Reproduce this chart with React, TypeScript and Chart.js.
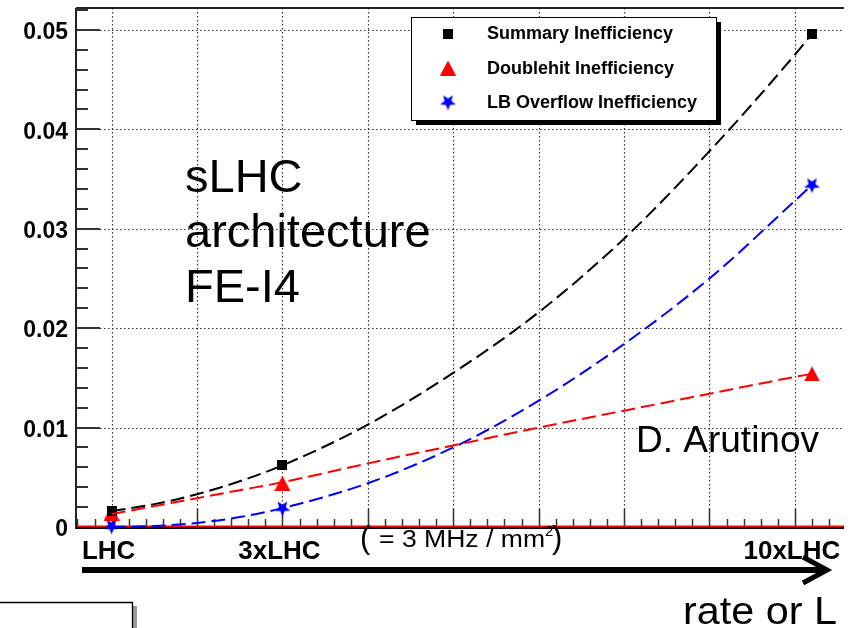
import React, { useEffect, useRef } from "react";
import { Chart, registerables } from "chart.js";

Chart.register(...registerables);

// ---- data ----
const fitX = [1, 1.5, 2, 2.5, 3, 4, 5, 6, 7, 8, 9, 9.2];
const summaryFit = [0.0016, 0.0023, 0.0033, 0.0046, 0.0062, 0.0103, 0.0155, 0.0216, 0.029, 0.0378, 0.0475, 0.0496];
const doublehitFit = [0.0013, 0.0021, 0.0029, 0.0037, 0.0045, 0.0064, 0.0082, 0.01, 0.0117, 0.0134, 0.0151, 0.0154];
const overflowFit = [0.0, 0.0001, 0.0004, 0.001, 0.0019, 0.0044, 0.008, 0.0127, 0.0184, 0.025, 0.0328, 0.0344];

const pointX = [1, 3, 9.2];
const summaryPts = [0.0016, 0.0062, 0.0496];
const doublehitPts = [0.0014, 0.0044, 0.0154];
const overflowPts = [0.0001, 0.0019, 0.0344];

const seriesLabels = ["Summary Inefficiency", "Doublehit Inefficiency", "LB Overflow Inefficiency"];
const seriesColors = ["#000000", "#ff0000", "#0000ff"];

const xTickValues = [1, 2, 3, 4, 5, 6, 7, 8, 9];
const xTickLabels = ["LHC", "", "3xLHC", "", "", "", "", "", "10xLHC"];
const yTickValues = [0, 0.01, 0.02, 0.03, 0.04, 0.05];
const yTickLabels = ["0", "0.01", "0.02", "0.03", "0.04", "0.05"];

const xMin = 0.583;
const xMax = 9.575;
const yMin = 0;
const yMax = 0.0522;
const xMinorStep = 0.2;
const yMinorStep = 0.002;

const noteLines = ["sLHC", "architecture", "FE-I4"];
const authorText = "D. Arutinov";
const rateNoteText = "= 3 MHz / mm";
const axisTitle = "rate or L";

const FONT = '"Liberation Sans", Arial, Helvetica, sans-serif';

function makeSquare(): HTMLCanvasElement {
  const c = document.createElement("canvas");
  c.width = 10; c.height = 10;
  const g = c.getContext("2d")!;
  g.fillStyle = "#000";
  g.fillRect(0, 0, 10, 10);
  return c;
}
function makeTriangle(): HTMLCanvasElement {
  const c = document.createElement("canvas");
  c.width = 16; c.height = 15;
  const g = c.getContext("2d")!;
  g.fillStyle = "#ff0000";
  g.beginPath();
  g.moveTo(8, 0); g.lineTo(16, 15); g.lineTo(0, 15); g.closePath();
  g.fill();
  return c;
}
function makeStar(): HTMLCanvasElement {
  const c = document.createElement("canvas");
  c.width = 17; c.height = 17;
  const g = c.getContext("2d")!;
  g.fillStyle = "#0000ff";
  g.beginPath();
  for (let k = 0; k < 10; k++) {
    const ang = Math.PI / 2 + (k * Math.PI) / 5;
    const r = k % 2 === 0 ? 8.3 : 3.6;
    const px = 8.5 + r * Math.cos(ang);
    const py = 8.5 + r * Math.sin(ang);
    if (k === 0) g.moveTo(px, py); else g.lineTo(px, py);
  }
  g.closePath();
  g.fill();
  return c;
}

export default function App() {
  const ref = useRef<HTMLCanvasElement | null>(null);

  useEffect(() => {
    const canvas = ref.current;
    if (!canvas) return;
    const markers = [makeSquare(), makeTriangle(), makeStar()];

    const decor = {
      id: "decor",
      beforeDraw(chart: any) {
        const ctx = chart.ctx;
        ctx.save();
        ctx.fillStyle = "#fff";
        ctx.fillRect(0, 0, chart.width, chart.height);
        ctx.restore();
      },
      beforeDatasetsDraw(chart: any) {
        const { ctx, chartArea: a } = chart;
        const xs = chart.scales.x;
        const ys = chart.scales.y;
        ctx.save();
        // dotted grid
        ctx.strokeStyle = "#333";
        ctx.lineWidth = 1.2;
        ctx.setLineDash([1.5, 2.5]);
        for (const v of xTickValues) {
          const px = Math.round(xs.getPixelForValue(v)) + 0.5;
          ctx.beginPath(); ctx.moveTo(px, a.top); ctx.lineTo(px, a.bottom); ctx.stroke();
        }
        for (const v of yTickValues) {
          if (v === 0) continue;
          const py = Math.round(ys.getPixelForValue(v)) + 0.5;
          ctx.beginPath(); ctx.moveTo(a.left, py); ctx.lineTo(a.right, py); ctx.stroke();
        }
        ctx.setLineDash([]);
        // y ticks (inside)
        ctx.strokeStyle = "#333";
        ctx.lineWidth = 2;
        const nY = Math.floor(yMax / yMinorStep + 1e-6);
        for (let k = 0; k <= nY; k++) {
          const py = Math.round(ys.getPixelForValue(k * yMinorStep));
          const len = k % 5 === 0 ? 24 : 12;
          ctx.beginPath(); ctx.moveTo(a.left, py); ctx.lineTo(a.left + len, py); ctx.stroke();
        }
        // x ticks (inside)
        ctx.lineWidth = 1.5;
        const k0 = Math.ceil(xMin / xMinorStep - 1e-6);
        const k1 = Math.floor(xMax / xMinorStep + 1e-6);
        for (let k = k0; k <= k1; k++) {
          const px = Math.round(xs.getPixelForValue(k * xMinorStep)) + 0.5;
          const len = k % 5 === 0 ? 18 : 8;
          ctx.beginPath(); ctx.moveTo(px, a.bottom); ctx.lineTo(px, a.bottom - len); ctx.stroke();
        }
        // frame: top and left
        ctx.strokeStyle = "#222";
        ctx.lineWidth = 2;
        ctx.beginPath(); ctx.moveTo(a.left, a.top); ctx.lineTo(a.right, a.top); ctx.stroke();
        ctx.beginPath(); ctx.moveTo(a.left, a.top); ctx.lineTo(a.left, a.bottom + 2); ctx.stroke();
        // x axis line and red zero line
        ctx.strokeStyle = "#000";
        ctx.beginPath(); ctx.moveTo(a.left, a.bottom + 1); ctx.lineTo(a.right, a.bottom + 1); ctx.stroke();
        ctx.strokeStyle = "#ff0000";
        ctx.lineWidth = 1.5;
        const y0 = ys.getPixelForValue(0);
        ctx.beginPath(); ctx.moveTo(a.left + 1, y0 - 0.75); ctx.lineTo(a.right, y0 - 0.75); ctx.stroke();
        ctx.restore();
      },
      afterDraw(chart: any) {
        const { ctx } = chart;
        ctx.save();
        // legend box with shadow
        ctx.fillStyle = "#000";
        ctx.fillRect(416, 22, 305, 103);
        ctx.fillStyle = "#fff";
        ctx.fillRect(411, 17, 306, 104);
        ctx.strokeStyle = "#000";
        ctx.lineWidth = 1;
        ctx.strokeRect(411.5, 17.5, 305, 103);
        const rows = [39, 74, 108];
        const markerY = [33.5, 68, 102];
        ctx.font = `bold 18px ${FONT}`;
        ctx.fillStyle = "#000";
        ctx.textBaseline = "alphabetic";
        ctx.textAlign = "left";
        for (let i = 0; i < 3; i++) {
          const m = markers[i];
          ctx.drawImage(m, 448 - m.width / 2, markerY[i] - m.height / 2);
          ctx.fillStyle = "#000";
          ctx.fillText(seriesLabels[i], 487, rows[i]);
        }
        // big annotation
        ctx.font = `47px ${FONT}`;
        const base = [192, 247, 302];
        noteLines.forEach((t, i) => ctx.fillText(t, 185, base[i]));
        ctx.font = `37px ${FONT}`;
        ctx.fillText(authorText, 636, 452);
        // ( = 3 MHz / mm2 )
        ctx.font = `31px ${FONT}`;
        ctx.fillText("(", 360, 548);
        ctx.font = `23px ${FONT}`;
        const w = ctx.measureText(rateNoteText).width;
        ctx.save();
        ctx.translate(379, 547);
        ctx.scale(166 / w, 1);
        ctx.fillText(rateNoteText, 0, 0);
        ctx.restore();
        ctx.font = `15px ${FONT}`;
        ctx.fillText("2", 545, 536);
        ctx.font = `31px ${FONT}`;
        ctx.fillText(")", 552, 548);
        // arrow
        ctx.strokeStyle = "#000";
        ctx.lineWidth = 6;
        ctx.lineCap = "butt";
        ctx.beginPath(); ctx.moveTo(82, 570); ctx.lineTo(824, 570); ctx.stroke();
        ctx.lineWidth = 5;
        ctx.lineJoin = "miter";
        ctx.beginPath(); ctx.moveTo(803, 557); ctx.lineTo(827, 570); ctx.lineTo(803, 583); ctx.stroke();
        // axis title
        ctx.font = `39px ${FONT}`;
        const tw = ctx.measureText(axisTitle).width;
        ctx.save();
        ctx.translate(683, 624);
        ctx.scale(154 / tw, 1);
        ctx.fillText(axisTitle, 0, 0);
        ctx.restore();
        // bottom-left box
        ctx.fillStyle = "#999";
        ctx.fillRect(2, 606, 135, 30);
        ctx.fillStyle = "#fff";
        ctx.fillRect(-2, 602, 134, 30);
        ctx.strokeStyle = "#000";
        ctx.lineWidth = 1.3;
        ctx.beginPath(); ctx.moveTo(-2, 602.5); ctx.lineTo(132.5, 602.5); ctx.lineTo(132.5, 640); ctx.stroke();
        ctx.restore();
      },
    };

    const fitDs = (vals: number[], color: string, label: string) => ({
      label,
      data: fitX.map((x, i) => ({ x, y: vals[i] })),
      showLine: true,
      borderColor: color,
      backgroundColor: color,
      borderWidth: 2,
      borderDash: [14, 6],
      pointRadius: 0,
      cubicInterpolationMode: "monotone" as const,
      tension: 0.4,
    });
    const ptDs = (vals: number[], idx: number) => ({
      label: seriesLabels[idx],
      data: pointX.map((x, i) => ({ x, y: vals[i] })),
      showLine: false,
      pointStyle: markers[idx],
      pointRadius: 7,
      borderColor: seriesColors[idx],
      backgroundColor: seriesColors[idx],
      clip: false as const,
    });

    const zeroPad = (s: any) => {
      s.paddingTop = 0;
      s.paddingBottom = 0;
      s.paddingLeft = 0;
      s.paddingRight = 0;
    };

    const chart = new Chart(canvas, {
      type: "scatter",
      data: {
        datasets: [
          fitDs(summaryFit, "#000000", "Summary fit"),
          fitDs(doublehitFit, "#ff0000", "Doublehit fit"),
          fitDs(overflowFit, "#0000ff", "LB Overflow fit"),
          ptDs(summaryPts, 0),
          ptDs(doublehitPts, 1),
          ptDs(overflowPts, 2),
        ],
      },
      options: {
        responsive: false,
        animation: false,
        devicePixelRatio: 1,
        events: [],
        layout: { padding: { left: 0, top: 5, right: 0, bottom: 0 } },
        plugins: { legend: { display: false }, tooltip: { enabled: false } },
        scales: {
          x: {
            type: "linear",
            min: xMin,
            max: xMax,
            afterBuildTicks: (s: any) => {
              s.ticks = xTickValues.map((v) => ({ value: v }));
            },
            afterFit: (s: any) => {
              s.height = 101;
              zeroPad(s);
            },
            grid: { display: false, drawTicks: false },
            border: { display: false },
            ticks: {
              autoSkip: false,
              maxRotation: 0,
              padding: 9,
              labelOffset: -3,
              color: "#000",
              font: { family: FONT, size: 26, weight: "bold" },
              callback: (v: any) => {
                const i = xTickValues.indexOf(Number(v));
                return i >= 0 ? xTickLabels[i] : "";
              },
            },
          },
          y: {
            type: "linear",
            min: yMin,
            max: yMax,
            afterBuildTicks: (s: any) => {
              s.ticks = yTickValues.map((v) => ({ value: v }));
            },
            afterFit: (s: any) => {
              s.width = 76;
              zeroPad(s);
            },
            grid: { display: false, drawTicks: false },
            border: { display: false },
            ticks: {
              padding: 8,
              labelOffset: 3,
              color: "#000",
              font: { family: FONT, size: 23, weight: "bold" },
              callback: (v: any) => {
                const i = yTickValues.findIndex((t) => Math.abs(t - Number(v)) < 1e-9);
                return i >= 0 ? yTickLabels[i] : "";
              },
            },
          },
        },
      },
      plugins: [decor],
    } as any);

    return () => chart.destroy();
  }, []);

  return (
    <div style={{ position: "fixed", left: 0, top: 0, width: 852, height: 628, overflow: "hidden", background: "#fff" }}>
      <canvas ref={ref} width={852} height={628} style={{ display: "block", width: 852, height: 628 }} />
    </div>
  );
}
